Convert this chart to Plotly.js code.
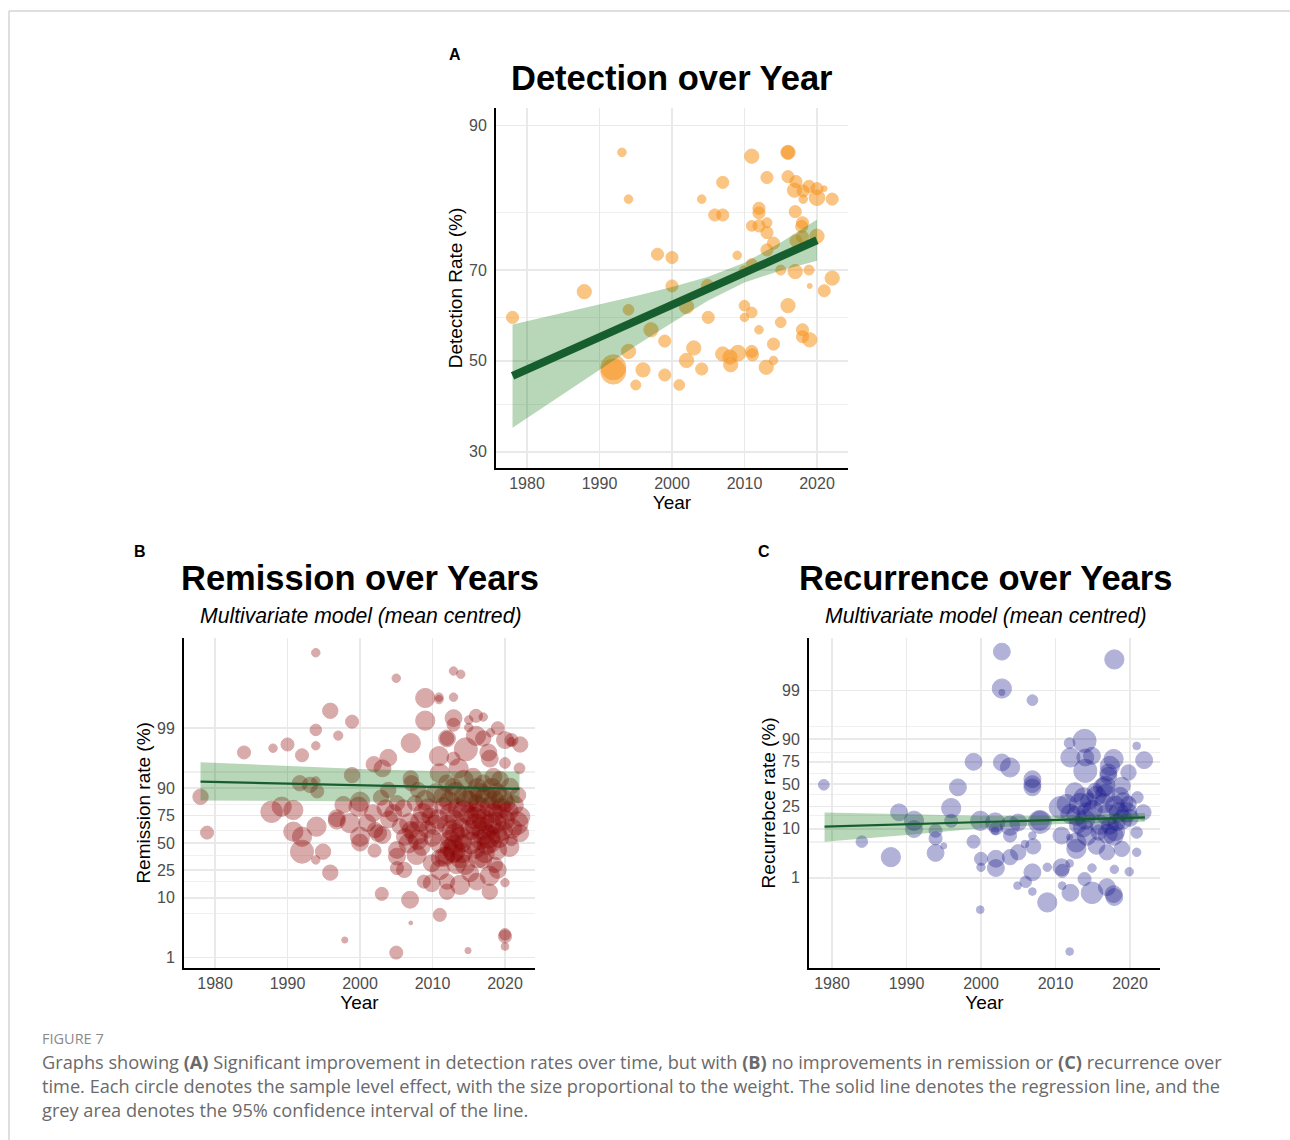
<!DOCTYPE html>
<html><head><meta charset="utf-8">
<script src="https://cdn.plot.ly/plotly-3.0.1.min.js"></script>
<style>html,body{margin:0;padding:0;background:#fff}#chart{width:1290px;height:1140px}</style>
</head><body><div id="chart"></div>
<script>
// ---------- Panel A: Detection ----------
const detYear = [1993.1,1994.0,2004.1,2007.0,2011.0,2013.1,2016.0,2016.0,2016.0,2017.1,
 2016.9,2018.1,2018.1,2018.9,2020.0,2020.0,2021.0,2022.1,2005.9,2007.0,
 2012.0,2012.0,2017.0,2011.0,2012.0,2013.1,2013.1,2018.0,2017.9,2018.0,
 2020.0,2014.0,2013.1,2017.1,1998.0,2000.0,2009.0,2011.0,2009.9,2015.0,
 2017.0,2018.9,2019.0,2022.1,2021.0,1987.9,2000.0,2004.9,1978.0,1994.0,
 2002.0,2005.0,2010.0,2010.0,2011.0,2016.0,2012.0,2015.0,2018.0,2018.0,
 2019.0,1997.1,1999.0,1994.0,2003.0,1991.9,1991.9,1996.0,1999.0,1995.0,
 2001.0,2002.0,2004.1,2007.0,2008.0,2008.1,2009.1,2011.0,2011.1,2013.0,
 2014.0,2014.0];
const detRate = [87.5,81.9,81.9,84.1,87.1,84.7,87.5,87.5,84.8,84.2,
 83.1,83.0,81.9,83.6,83.3,82.1,83.3,81.9,79.6,79.6,
 80.6,79.9,80.1,77.9,77.9,78.4,76.8,78.4,77.8,76.1,
 76.2,75.0,73.8,75.4,73.0,72.4,72.8,71.2,70.0,70.0,
 69.7,70.0,66.8,68.4,65.8,65.6,66.8,66.9,60.0,61.7,
 62.4,60.0,62.6,60.0,61.1,62.6,57.2,58.9,57.2,55.6,
 54.9,57.2,54.6,52.2,53.0,48.5,47.5,47.9,46.7,44.4,
 44.4,50.1,48.1,51.6,50.9,49.1,51.8,52.2,51.4,48.5,
 53.9,50.1];
const detWeight = [12,12,12,17,20,17,20,18,17,17,
 20,17,12,17,17,22,8,17,17,17,
 17,17,17,15,17,14,17,17,17,17,
 20,17,17,17,17,17,12,15,12,14,
 20,14,7,20,17,20,17,17,17,15,
 20,17,15,12,15,20,12,15,17,17,
 20,20,17,20,20,35,35,20,17,14,
 15,20,17,20,20,20,22,17,17,20,
 17,12];
const detBandYear = [1978,1985,1990,1995,2000,2005,2010,2015,2020];
const detBandLow  = [34.9,42.4,47.9,53.5,58.8,63.7,67.5,69.9,71.8];
const detBandHigh = [58.4,61.0,62.8,64.7,66.6,68.7,71.4,75.1,78.9];
const detFitYear = [1978,2020];
const detFit = [46.5,75.5];
const detTicks = [30,50,70,90];
const detMinor = [40,60,80];

// ---------- Panel B: Remission ----------
const remYear = [1993.9,2005.0,2012.9,2013.9,2009.0,2010.9,2010.9,2012.9,1995.9,1998.9,
 1993.9,1997.0,1993.9,1990.0,1988.0,1984.0,1992.0,2009.0,2012.0,2012.0,
 2012.9,2012.9,2015.0,2015.0,2016.0,2017.0,2016.0,2017.0,2018.0,2019.0,
 2020.0,2020.9,2020.9,2022.1,2007.0,2014.6,2017.7,2017.9,2020.0,2022.0,
 2010.9,2012.9,2013.6,2003.9,2001.9,2003.1,2007.0,1998.9,1991.7,1993.1,
 1994.1,1993.9,1978.0,1997.7,2000.0,2002.9,2003.9,2005.1,2007.1,2008.0,
 2007.6,2011.0,2012.0,2012.9,2014.3,2015.6,2017.0,2018.4,2019.3,2020.7,
 2021.8,2011.5,2014.3,2016.6,2018.9,2016.1,2017.9,2020.2,2022.1,1987.8,
 1989.2,1990.8,1994.0,1996.8,1978.9,1990.8,1992.0,1992.0,1994.9,1993.9,
 1995.9,1996.8,1998.6,2000.0,2000.0,1999.8,2001.8,2002.1,2002.5,2003.1,
 2002.0,2005.1,2005.1,2005.1,2006.1,2003.0,2006.9,2007.0,2011.0,1997.9,
 2005.0,2014.9,2020.0,2020.0,2020.0,2020.0,2017.9,2012.0,2009.9,2008.8,
 2009.9,2011.0,2012.0,2013.8,2015.2,2016.1,2017.9,2018.6,2007.8,2006.7,
 2007.8,2006.8,2009.7,2010.3,2011.0,2011.7,2011.9,2012.9,2012.9,2013.1,
 2013.8,2014.2,2015.2,2016.6,2017.0,2017.7,2018.9,2018.9,2020.0,2021.6,
 2022.1,2020.9,2016.1,2018.4,2012.4,2008.7,2004.6,2013.0,2014.0,2015.0,
 2016.0,2017.0,2018.0,2019.0,2016.5,2018.5,2015.5,2013.5,2012.0,2017.5,
 2016.0,2019.5,2017.0,2014.5,2019.0,2011.5,2009.0,2008.0,2007.0,2010.0,
 2011.0,2013.2,2014.8,2016.2,2017.4,2018.2,2019.6,2020.5,2021.2,2012.3,
 2010.5,2009.4,2008.3,2012.8,2013.9,2015.3,2016.8,2018.6,2019.7,2020.6,
 2015.8,2014.3,2012.5,2013.0,2013.3,2012.2,2014.1,2016.3,2017.2,2018.0,
 2019.2,2021.0,2010.8,2009.3,2008.5,2006.2,2005.5,2004.0,2003.5,2001.0,
 2006.0];
const remRate = [99.951,99.864,99.898,99.884,99.70,99.71,99.68,99.71,99.50,99.23,
 98.93,98.66,98.0,98.1,97.8,97.4,97.1,99.26,98.5,98.5,
 99.33,99.13,99.28,99.03,99.39,99.36,98.65,98.5,98.8,99.0,
 98.4,98.4,98.3,98.1,98.2,97.7,97.4,96.7,96.1,95.2,
 97.0,96.7,95.2,96.8,95.9,95.2,93.0,93.8,91.6,91.1,
 88.7,92.3,86.4,82.1,83.9,86.0,89.3,83.1,91.6,89.3,
 83.1,94.2,91.6,90.5,92.6,93.4,91.6,93.4,92.6,90.5,
 87.2,86.4,86.4,88.0,88.0,83.1,81.0,83.1,74.1,77.7,
 81.0,78.9,65.7,72.9,60.2,61.1,56.2,41.3,41.3,33.6,
 23.3,70.9,68.8,56.2,50.3,81.0,76.7,62.7,59.6,57.9,
 42.3,43.0,36.6,26.7,25.3,11.5,9.3,3.9,5.3,2.0,
 1.22,1.32,2.5,2.3,1.55,16.9,12.4,12.4,16.6,17.5,
 30.7,25.3,17.5,15.7,22.9,17.5,21.1,29.3,38.2,49.7,
 59.6,68.8,74.1,67.3,49.7,36.6,37.5,39.8,48.0,59.6,
 35.2,49.7,62.7,53.0,59.6,56.2,43.0,59.6,71.5,68.8,
 59.6,53.0,76.7,76.7,76.7,76.7,76.7,71.5,64.6,75.4,
 67.3,71.5,67.3,75.4,80.2,84.8,87.2,80.2,67.3,48.0,
 43.0,80.2,33.6,29.3,25.3,81.5,84.8,53.0,62.7,55.0,
 35.2,88,84,90,86,90,85,78,82,84,
 88,80,70,62,55,50,64,69,62,46,
 73,78,53,42,30,45,40,35,40,51,
 55,64,72,63,46,56,66,72,80,69,
 80];
const remWeight = [11,11,11,11,25,11,11,11,20,17,
 15,12,11,17,11,17,17,25,22,18,
 22,17,11,11,17,11,25,20,11,17,
 22,17,11,20,25,30,22,22,14,14,
 25,17,25,22,20,22,20,20,20,20,
 17,11,20,22,25,20,20,20,20,20,
 20,25,22,22,25,22,22,22,22,22,
 20,25,25,25,25,22,25,22,25,28,
 25,25,25,22,17,25,25,30,20,11,
 20,22,25,25,22,25,22,20,22,22,
 17,22,22,17,20,17,22,5,17,8,
 17,8,15,17,10,11,20,20,22,17,
 22,25,20,25,22,22,25,20,25,25,
 30,25,22,25,25,25,22,25,25,25,
 25,22,25,25,30,30,25,25,25,30,
 22,15,25,25,25,25,22,25,25,25,
 28,28,28,25,28,25,25,25,25,25,
 22,25,22,25,22,22,25,25,22,22,
 22,28,28,25,28,25,28,25,25,25,
 25,25,25,28,28,28,28,28,25,25,
 28,28,25,28,25,22,25,25,25,28,
 25,25,25,22,22,22,20,22,22,22,
 22];
const remBandYear = [1978,1990,2000,2010,2022];
const remBandLow  = [84.5,84.4,84.1,83.6,83.1];
const remBandHigh = [96.2,95.6,95.1,94.7,94.6];
const remFitYear = [1978,2022];
const remFit = [92.1,89.7];

// ---------- Panel C: Recurrence ----------
const recYear = [2002.8,2017.9,2002.8,2002.8,2006.9,1978.9,1999.0,1996.9,1996.0,2002.8,
 2003.9,2006.9,2006.9,2006.9,2011.9,2013.9,2012.0,2014.0,2014.9,2014.0,
 2017.8,2017.3,2017.1,2017.1,2019.8,2020.9,2021.9,2011.5,2012.6,2013.8,
 2015.3,2016.7,2016.7,2018.9,2018.7,2021.0,2019.8,2021.8,1996.0,1993.9,
 1993.9,1993.9,1995.0,1999.9,2001.9,2002.0,2003.9,2003.9,2005.0,2007.9,
 2007.9,2006.9,2005.9,2007.0,1999.0,2000.0,2000.0,2002.0,2002.0,2003.9,
 2005.0,2008.9,2006.9,2006.0,2004.9,2006.9,2008.9,1999.9,2011.9,2010.8,
 2010.9,2010.9,2012.0,2011.9,2013.9,2014.9,2014.9,2016.9,2017.8,2017.9,
 2017.9,2019.9,2010.8,2011.9,2012.8,2012.8,2014.2,2015.5,2016.9,2015.8,
 2017.8,2018.9,2020.9,2020.9,2012.8,2013.7,2017.3,2018.2,2019.6,2015.5,
 2014.2,2019.1,1984.0,1987.9,1989.0,1991.0,1991.0,2001.9,2010.6,2012.0,
 2016.4,2013.3,2018.0,2014.0,2015.0,2016.0,2017.0,2018.0,2019.0,2016.5,
 2014.5,2020.0,2018.5,2017.0,2013.0];
const recRate = [99.85,99.78,99.09,98.9,98.4,49.2,74.9,46.0,23.6,74.3,
 69.4,56.0,50.0,46.0,88.2,89.3,78.7,78.7,80.0,65.7,
 77.4,71.0,63.9,60.1,63.9,86.7,76.4,27.3,40.0,34.3,
 41.8,48.0,38.0,48.0,36.0,34.3,27.3,20.0,14.2,9.2,
 6.5,3.3,4.6,14.2,13.2,10.2,11.5,7.4,13.2,14.2,
 13.5,7.4,5.0,4.5,5.6,2.5,1.66,2.5,1.6,2.7,
 3.4,1.66,1.3,0.82,0.68,0.51,0.30,0.21,0.027,1.66,
 1.4,0.68,0.48,2.0,0.94,0.48,1.6,0.63,0.45,0.39,
 1.5,1.34,7.4,6.9,4.0,5.4,7.4,4.6,3.4,8.5,
 7.4,4.0,8.5,3.4,17.5,10.7,11.5,13.2,20.0,36.0,
 20.0,29.0,5.6,2.7,20.0,14.2,9.9,9.2,24.2,18.7,
 46.0,27.3,25.6,15,22,12,18,9,15,28,
 30,16,20,8,12];
const recWeight = [22,25,25,8,14,14,22,22,25,22,
 25,22,22,22,14,30,25,22,22,30,
 25,25,22,22,20,10,22,25,25,25,
 20,25,25,22,22,15,20,20,17,17,
 17,22,8,25,25,17,25,17,22,25,
 30,10,10,20,17,17,11,22,22,20,
 20,11,22,15,10,10,25,10,10,22,
 17,10,22,10,17,28,11,22,22,22,
 11,11,22,8,25,25,25,22,20,20,
 25,20,15,11,25,25,22,22,25,25,
 25,25,15,25,22,25,22,10,28,25,
 25,28,25,25,25,25,28,25,25,25,
 22,22,25,25,22];
const recBandYear = [1979,1990,2000,2010,2022];
const recBandLow  = [5.6,7.6,10.3,12.3,13.6];
const recBandHigh = [19.9,18.7,17.5,17.4,19.5];
const recFitYear = [1979,2022];
const recFit = [11.0,16.4];

const pctTicks = [1,10,25,50,75,90,99];
const pctMinor = [5.5,17.5,37.5,62.5,82.5,94.5];
const yearTicks = [1980,1990,2000,2010,2020];

// sanity
[[detYear,detRate,detWeight],[remYear,remRate,remWeight],[recYear,recRate,recWeight]].forEach((g,i)=>{
  if (g[0].length!==g[1].length || g[0].length!==g[2].length) throw new Error('length mismatch '+i+': '+g.map(a=>a.length).join(','));
});

const logit = p => Math.log(p / (100 - p));
const L = arr => arr.map(logit);
const FONT = 'Liberation Sans, Arial, Helvetica, sans-serif';
const FIT_COLOR = '#175e2f';

function pts(x, y, w, color, op, sref, xa, ya) {
  return {type:'scatter', mode:'markers', x:x, y:L(y), xaxis:xa, yaxis:ya, hoverinfo:'skip',
    marker:{size:w, sizemode:'diameter', sizeref:sref, color:color, opacity:op, line:{color:color, width:1}}};
}
function band(xs, lo, hi, xa, ya) {
  return {type:'scatter', mode:'lines', x:xs.concat(xs.slice().reverse()),
    y:L(hi).concat(L(lo).reverse()), fill:'toself', fillcolor:'rgba(20,120,20,0.30)',
    line:{width:0}, xaxis:xa, yaxis:ya, hoverinfo:'skip'};
}
function fit(xs, ys, w, xa, ya) {
  return {type:'scatter', mode:'lines', x:xs, y:L(ys), xaxis:xa, yaxis:ya, hoverinfo:'skip',
    line:{color:FIT_COLOR, width:w}};
}

const data = [
  pts(detYear, detRate, detWeight, 'rgb(247,148,30)', 0.55, 1.4, 'x', 'y'),
  band(detBandYear, detBandLow, detBandHigh, 'x', 'y'),
  fit(detFitYear, detFit, 8, 'x', 'y'),
  pts(remYear, remRate, remWeight, 'rgb(139,0,0)', 0.33, 1.3, 'x2', 'y2'),
  band(remBandYear, remBandLow, remBandHigh, 'x2', 'y2'),
  fit(remFitYear, remFit, 2.2, 'x2', 'y2'),
  pts(recYear, recRate, recWeight, 'rgb(25,25,140)', 0.33, 1.3, 'x3', 'y3'),
  band(recBandYear, recBandLow, recBandHigh, 'x3', 'y3'),
  fit(recFitYear, recFit, 2.2, 'x3', 'y3')
];

function xax(domain, range, anchor) {
  return {domain:domain, range:range, anchor:anchor, tickmode:'array', tickvals:yearTicks,
    ticks:'', showline:true, linecolor:'#000', linewidth:2, showgrid:true, gridcolor:'#e9e9e9', gridwidth:1.8,
    zeroline:false, fixedrange:true, tickfont:{family:FONT, size:16, color:'#4d4d4d'},
    title:{text:'Year', font:{family:FONT, size:19, color:'#000'}, standoff:4}};
}
function yax(domain, range, anchor, ticks, minor, title) {
  return {domain:domain, range:range, anchor:anchor, tickmode:'array', tickvals:L(ticks), ticktext:ticks.map(String),
    ticks:'', ticklabelstandoff:4, showline:true, linecolor:'#000', linewidth:2, showgrid:true, gridcolor:'#e9e9e9', gridwidth:1.8,
    minor:{tickvals:L(minor), showgrid:true, gridcolor:'#f0f0f0', gridwidth:1.2, ticklen:0},
    zeroline:false, fixedrange:true, tickfont:{family:FONT, size:16, color:'#4d4d4d'},
    title:{text:title, font:{family:FONT, size:19, color:'#000'}, standoff:1}};
}

const W = 1290, H = 1140;
const px = v => v / W, py = v => 1 - v / H;

const ann = [];
function txt(x, y, text, size, opts) {
  ann.push(Object.assign({xref:'paper', yref:'paper', x:px(x), y:py(y), text:text, showarrow:false,
    xanchor:'center', yanchor:'middle', font:{family:FONT, size:size, color:'#000'}}, opts||{}));
}
txt(672, 78, '<b>Detection over Year</b>', 34.5);
txt(360, 578, '<b>Remission over Years</b>', 34.5);
txt(985, 578, '<b>Recurrence over Years</b>', 34.5);
txt(360, 616, '<i>Multivariate model (mean centred)</i>', 21.2);
txt(985, 616, '<i>Multivariate model (mean centred)</i>', 21.2);
txt(455, 54, '<b>A</b>', 16);
txt(140, 551, '<b>B</b>', 16);
txt(764, 551, '<b>C</b>', 16);
const CAP = 'Open Sans, Noto Sans, sans-serif';
const capFont = {family:CAP, size:18.2, color:'#6a6a6a'};
txt(40, 1038, 'FIGURE 7', 14.5, {xanchor:'left', font:{family:CAP, size:14.5, color:'#8a8a8a'}});
txt(40, 1062, 'Graphs showing <b>(A)</b> Significant improvement in detection rates over time, but with <b>(B)</b> no improvements in remission or <b>(C)</b> recurrence over', 18, {xanchor:'left', font:capFont});
txt(40, 1086, 'time. Each circle denotes the sample level effect, with the size proportional to the weight. The solid line denotes the regression line, and the', 18, {xanchor:'left', font:capFont});
txt(40, 1110, 'grey area denotes the 95% confidence interval of the line.', 18, {xanchor:'left', font:capFont});

const layout = {
  width:W, height:H, margin:{l:0, r:0, t:0, b:0}, paper_bgcolor:'#fff', plot_bgcolor:'#fff',
  showlegend:false, font:{family:FONT},
  xaxis: xax([px(496), px(848)], [1975.72, 2024.28], 'y'),
  yaxis: yax([py(468), py(108)], [-1.0, 2.36], 'x', detTicks, detMinor, 'Detection Rate (%)'),
  xaxis2: xax([px(184), px(535)], [1975.72, 2024.14], 'y2'),
  yaxis2: yax([py(967.7), py(638)], [-5.0, 8.21], 'x2', pctTicks, pctMinor, 'Remission rate (%)'),
  xaxis3: xax([px(809), px(1160)], [1976.91, 2024.03], 'y3'),
  yaxis3: yax([py(967.7), py(638)], [-9.01, 7.17], 'x3', pctTicks, pctMinor, 'Recurrebce rate (%)'),
  annotations: ann,
  shapes: [
    {type:'line', xref:'paper', yref:'paper', x0:px(9), x1:1, y0:py(11), y1:py(11), line:{color:'#d4d4d4', width:1.5}},
    {type:'line', xref:'paper', yref:'paper', x0:px(9), x1:px(9), y0:py(11), y1:0, line:{color:'#d4d4d4', width:1.5}}
  ]
};

Plotly.newPlot('chart', data, layout, {displayModeBar:false, staticPlot:true});
</script>
</body></html>
